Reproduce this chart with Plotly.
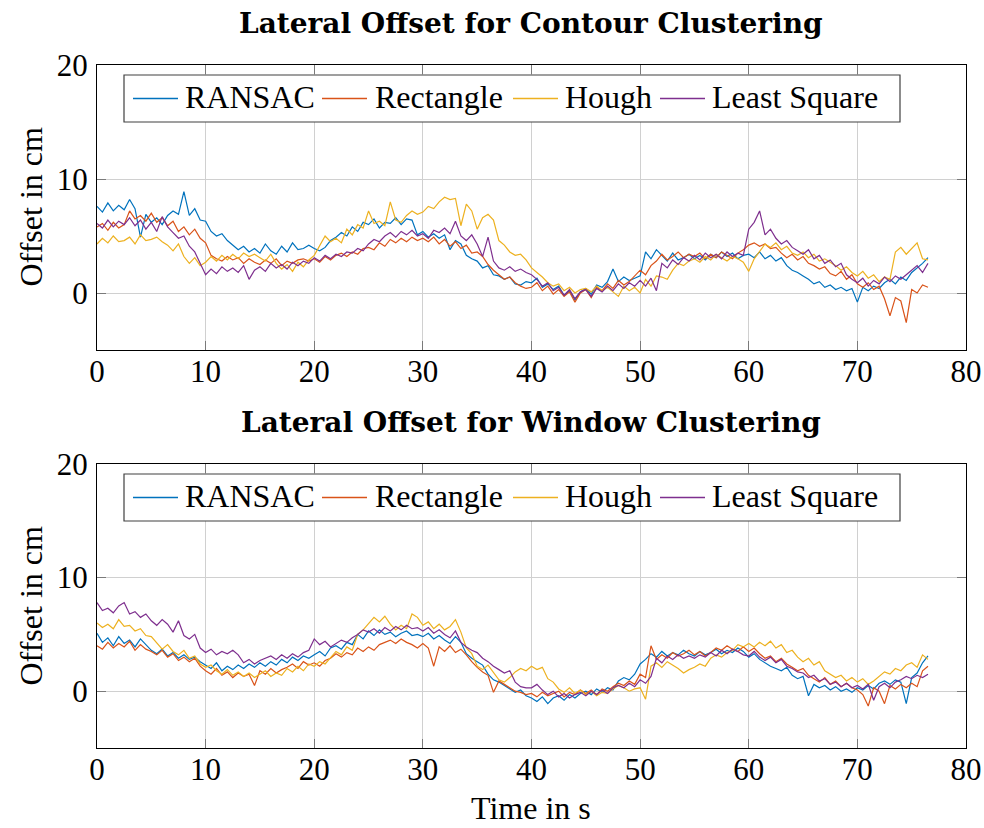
import plotly.graph_objects as go

# Sample times in seconds (0.5 s steps)
time_s = [i * 0.5 for i in range(154)]

series_names = ["RANSAC", "Rectangle", "Hough", "Least Square"]
series_colors = ["#0072BD", "#D95319", "#EDB120", "#7E2F8E"]

# Lateral offset in cm, contour clustering
contour_ransac = [
    7.6, 7.1, 7.9, 7.2, 7.7, 7.3, 8.2, 7.4, 4.9, 6.9,
    6.2, 6.6, 6.0, 6.8, 7.2, 6.9, 8.9, 6.8, 7.4, 6.4,
    6.3, 5.4, 5.0, 5.2, 4.6, 4.2, 3.8, 4.1, 3.6, 3.9,
    3.5, 4.3, 3.7, 3.4, 4.1, 3.6, 4.4, 3.8, 3.9, 4.2,
    3.9, 3.7, 4.0, 4.6, 4.9, 5.3, 5.0, 5.8, 5.4, 6.2,
    6.0, 6.5, 5.7, 6.2, 6.1, 6.6, 6.0, 6.5, 6.4, 5.1,
    5.4, 4.9, 5.2, 4.8, 5.1, 3.8, 4.6, 4.3, 3.3, 3.0,
    2.8, 2.2, 2.4, 1.6, 1.5, 1.2, 1.4, 0.8, 0.7, 1.0,
    0.9, 1.3, 0.5, 0.8, 0.3, 0.6, -0.2, 0.2, -0.6, 0.1,
    0.4, -0.1, 0.7, 0.5, 1.0, 2.1, 1.0, 1.4, 1.1, 1.3,
    1.5, 3.6, 3.0, 3.8, 3.3, 2.8, 3.5, 2.9, 3.1, 3.4,
    3.0, 3.3, 2.9, 3.4, 3.1, 3.6, 3.2, 3.5, 3.0, 3.3,
    3.4, 3.1, 3.6, 3.0, 3.3, 2.8, 3.1, 2.4, 2.0, 1.8,
    1.5, 1.2, 0.8, 1.0, 0.5, 0.7, 0.3, 0.5, 0.2, 0.4,
    -0.8, 0.5, 0.2, 0.6, 0.4, 0.9, 1.2, 0.8, 1.4, 1.1,
    1.8, 2.2, 2.6, 3.1,
]
contour_rectangle = [
    5.8, 6.1, 5.5, 6.2, 5.7, 6.0, 7.2, 6.5, 6.8, 6.3,
    7.0, 6.2, 6.6, 5.9, 6.3, 5.4, 5.8, 5.1, 5.6, 4.8,
    4.4, 3.3, 3.0, 2.8, 3.2, 2.9, 3.1, 2.6, 3.0, 2.7,
    2.5, 2.9, 2.6, 3.0, 2.4, 2.8, 2.6, 2.9, 3.0, 2.8,
    3.0, 2.7, 3.2, 2.9, 3.3, 3.5, 3.2, 3.6, 3.4, 3.9,
    4.0, 3.8, 4.4, 4.1, 4.7, 4.4, 4.8, 4.5, 4.9, 4.6,
    4.8, 4.5, 4.9, 4.3, 4.7, 4.1, 4.5, 3.9, 4.2, 3.5,
    3.6, 3.2, 2.5, 2.0, 1.6, 1.2, 1.4, 0.9, 0.6, 0.4,
    0.5, 0.9, 0.2, 0.6, -0.1, 0.3, -0.3, 0.1, -0.8, 0.0,
    0.3, -0.4, 0.5, 0.2, 0.8, 0.4, 1.1, 0.7, 1.0, 1.5,
    2.0, 1.6, 2.4, 2.8, 3.4, 2.9, 3.2, 3.6, 3.1, 3.4,
    3.2, 3.5, 3.0, 3.4, 3.1, 3.6, 3.3, 3.0, 3.5, 3.8,
    4.2, 4.4, 4.1, 4.3, 3.9, 4.0, 3.5, 3.1, 3.4, 2.9,
    3.2, 2.6, 2.4, 2.1, 2.3, 1.7, 1.5, 1.9, 1.2, 1.6,
    0.8, 0.5, 0.9, 0.3, 0.6, -0.5, -2.0, -0.4, -0.7, -2.6,
    0.3, 0.0, 0.7, 0.5,
]
contour_hough = [
    4.3, 4.8, 4.4, 5.0, 4.5, 4.6, 4.9, 4.3, 5.1, 4.6,
    4.7, 4.9, 4.5, 4.2, 3.7, 4.3, 3.2, 2.6, 3.1, 2.4,
    2.7, 3.2, 2.8, 3.3, 2.9, 3.4, 3.0, 3.5, 3.2, 3.4,
    3.1, 2.8, 3.4, 2.6, 2.1, 2.5, 1.9, 2.7, 2.3, 2.9,
    3.3, 4.2, 5.0, 4.5, 4.8, 4.4, 5.6, 5.1, 6.0, 5.7,
    7.2, 6.1, 6.3, 5.9, 8.0, 6.4, 6.2, 6.8, 7.2, 6.9,
    7.1, 7.6, 7.4, 8.0, 8.4, 8.2, 8.3, 5.9, 7.8, 7.2,
    5.6, 6.6, 6.9, 6.4, 4.6, 4.2, 3.6, 3.3, 3.4, 2.9,
    2.2, 1.8, 1.4, 0.9, 0.6, 0.8, 0.2, 0.5, 0.0, 0.3,
    0.4, 0.1, 0.6, 0.2, 0.5, 0.1, -0.3, 0.6, 0.2, 0.5,
    0.0, 1.2, 0.6, 1.5, 1.4, 1.2, 2.0, 2.6, 2.4, 2.8,
    3.0, 2.7, 3.2, 2.9, 3.4, 3.1, 2.8, 3.2, 3.0, 2.7,
    1.9, 3.0, 3.6, 4.3, 4.0, 4.4, 3.8, 4.1, 3.5, 3.3,
    3.6, 3.1, 3.4, 2.8, 3.0, 2.7, 2.4, 2.0, 2.3, 1.8,
    1.5, 1.9, 1.3, 1.6, 1.0, 1.4, 1.2, 3.6, 4.0, 3.4,
    3.9, 4.4, 3.0, 2.9,
]
contour_least_square = [
    6.1, 5.7, 6.4, 5.8, 6.3, 6.0, 6.6, 5.9, 6.4, 5.6,
    6.2, 5.4, 6.7, 5.8, 5.3, 4.8, 5.0, 4.1, 3.6, 2.6,
    1.6, 2.1, 1.7, 2.3, 1.9, 2.2, 1.8, 2.4, 1.2, 2.0,
    2.3, 1.9, 2.6, 2.2, 2.5, 2.1, 2.7, 2.4, 2.8, 2.6,
    3.1, 2.8, 3.3, 3.0, 3.4, 3.2, 3.6, 3.5, 3.9, 3.7,
    4.3, 4.7, 4.5, 5.0, 5.3, 4.9, 5.4, 5.1, 5.5, 5.0,
    5.2, 4.8, 5.5, 5.3, 5.7, 5.2, 6.3, 5.0, 4.6, 5.1,
    4.3, 3.2, 4.9, 2.8, 2.2, 2.0, 2.3, 1.9, 2.1, 1.8,
    1.6, 1.2, 0.6, 0.9, 0.2, 0.5, -0.2, 0.3, -0.5, 0.1,
    0.3, -0.3, 0.4, 0.1, 0.6, 0.2, 0.8, 0.4, 0.9, 0.6,
    1.1, 0.6, 1.3, 0.2, 2.6, 2.2, 2.9, 2.5, 3.1, 2.8,
    3.3, 2.9, 3.5, 3.1, 3.4, 3.0, 3.6, 3.2, 3.5, 3.3,
    5.6, 6.2, 7.2, 5.1, 5.6, 4.8, 4.3, 4.6, 4.0, 3.7,
    3.4, 3.8, 3.0, 3.3, 2.6, 2.9, 2.3, 2.6, 1.6, 1.2,
    0.9, 1.3, 0.6, 1.1, 0.8, 1.4, 1.0, 1.5, 1.2, 1.6,
    2.0, 2.4, 1.8, 2.6,
]

# Lateral offset in cm, window clustering
window_ransac = [
    5.1, 4.3, 4.7, 4.0, 4.8, 4.2, 4.5, 3.9, 4.6, 4.1,
    3.6, 3.3, 3.7, 3.1, 3.4, 2.9, 3.2, 2.8, 3.0, 2.6,
    2.3, 2.0, 2.5, 1.8, 2.2, 1.9, 2.3, 2.0, 2.4, 2.1,
    2.5, 2.2, 2.6, 2.3, 2.8, 2.5, 3.0, 2.7, 3.1, 2.9,
    3.2, 3.5, 3.1, 3.8, 4.0, 3.7, 4.3, 4.1, 5.0, 4.6,
    5.3, 4.9, 5.4, 5.0, 5.2, 4.8, 5.1, 5.3, 4.9, 5.0,
    4.8, 5.1, 4.6, 4.9, 4.5, 4.2, 4.8, 4.3, 3.3, 2.9,
    2.6, 2.3, 1.5, 1.0, 0.8, 0.5, 0.2, -0.1, 0.1, -0.4,
    -0.6, -0.9, -0.5, -1.1, -0.6, -0.4, -0.8, -0.3, -0.6, -0.2,
    0.0, -0.3, 0.2, -0.1, 0.3, 0.1, 0.9, 1.2, 1.0, 1.5,
    2.4, 2.8, 3.3, 3.0, 3.5, 3.1, 3.4, 3.2, 3.6, 3.3,
    3.1, 3.5, 3.2, 3.4, 3.7, 3.3, 3.6, 3.4, 3.8, 3.5,
    3.0, 3.3, 2.8, 2.5, 2.2, 2.0, 1.8, 2.1, 1.4, 1.1,
    1.3, -0.4, 0.6, 0.3, 0.5, 0.1, 0.4, 0.0, 0.2, -0.1,
    0.3, 0.1, 0.5, 0.2, 0.7, 0.9, 0.6, 1.0, 0.8, -1.1,
    1.2, 1.6, 2.5, 3.1,
]
window_rectangle = [
    4.0, 3.7, 4.3, 3.8, 4.2, 3.9, 4.4, 3.6, 4.1, 3.7,
    3.5, 3.2, 3.6, 3.0, 3.3, 2.7, 3.0, 2.6, 2.9, 2.2,
    1.8, 1.5, 2.0, 1.4, 1.7, 1.2, 1.6, 1.3, 1.5, 0.5,
    1.8, 1.5, 2.0, 1.6, 1.9, 2.1, 2.4, 2.0, 2.6, 2.3,
    2.5, 2.2, 2.7, 2.9, 3.3, 3.0, 3.4, 3.2, 3.8, 3.5,
    3.9, 3.6, 4.1, 4.3, 4.5, 4.2, 4.6, 4.3, 4.1, 3.8,
    4.2, 3.8, 2.2, 3.9, 3.5, 4.0, 3.4, 3.7, 3.2, 2.6,
    2.1, 1.7, 1.4, -0.1, 0.9, 0.6, 0.3, 0.0, -0.1, -0.3,
    -0.2, -0.5, -0.1, -0.4, -0.2, 0.0, -0.5, -0.1, -0.3, 0.1,
    -0.2, 0.1, -0.3, 0.2, 0.0, 0.4, 0.7, 0.5, 0.9, 0.6,
    1.5, 1.2, 4.0, 2.8, 3.2, 2.9, 3.4, 3.1, 3.3, 3.6,
    3.2, 3.5, 3.1, 3.4, 3.8, 3.6, 4.0, 3.7, 3.5, 3.9,
    3.5, 3.8, 3.3, 2.9, 3.1, 2.6, 2.9, 2.4, 2.1, 1.8,
    2.0, 1.4, 1.1, 0.8, 1.2, 0.6, 0.9, 0.4, 0.7, 0.3,
    0.1, -0.3, -1.3, 0.3, 0.0, -1.1, 0.5, 0.2, 0.6, 0.3,
    0.7, 0.4, 1.8, 2.2,
]
window_hough = [
    6.0, 5.6, 5.9, 5.5, 6.3, 5.7, 5.8, 5.3, 5.5, 4.9,
    4.8, 4.2, 3.7, 4.1, 3.5, 3.2, 3.6, 2.9, 3.1, 2.4,
    2.1, 2.3, 1.8, 1.5, 1.9, 1.4, 1.7, 1.3, 1.6, 1.2,
    1.5, 1.8, 1.3, 1.6, 1.4, 2.0, 1.7, 2.2, 1.8, 2.4,
    2.2, 2.6, 2.4, 3.0, 3.5, 3.2, 3.9, 3.6, 5.0, 5.4,
    6.0, 6.5, 6.1, 6.6, 5.9, 5.4, 5.8, 5.5, 6.8, 6.5,
    5.8, 6.1, 5.5, 5.9, 5.4, 5.7, 6.3, 5.2, 3.8, 3.3,
    2.2, 1.9, 2.3, 1.6, 1.0, 0.8, 1.2, 1.7, 2.0, 1.8,
    2.2, 1.9, 2.1, 1.1, 0.8, 0.2, -0.1, 0.3, -0.2, 0.1,
    -0.3, 0.0, -0.4, -0.1, -0.2, 0.2, 0.5, 0.3, 0.0, 0.2,
    0.3, -0.7, 2.2, 2.5, 2.1, 2.6, 2.3, 2.0, 1.6, 1.9,
    2.1, 2.4, 2.2, 2.9, 3.2, 3.0, 3.4, 3.6, 4.1, 3.9,
    4.2, 3.9, 4.3, 4.0, 4.4, 3.8, 4.1, 3.4, 3.6, 3.0,
    2.6, 2.9, 2.3, 2.6, 1.8, 1.5, 1.2, 1.4, 0.9, 1.2,
    0.8, 1.1, 0.6, 0.9, 1.3, 1.7, 1.5, 2.0, 1.8, 2.3,
    2.5, 2.1, 3.2, 2.8,
]
window_least_square = [
    7.8, 7.1, 7.3, 6.9, 7.5, 7.8, 6.8, 7.0, 6.5, 6.8,
    6.2, 5.8, 6.3, 5.9, 5.2, 6.2, 4.9, 4.6, 5.0, 3.8,
    3.4, 3.7, 3.2, 3.5, 3.3, 3.6, 3.2, 2.5, 2.8, 2.4,
    2.7, 2.9, 3.1, 2.8, 3.2, 2.9, 3.3, 3.0, 3.4, 3.6,
    4.6, 4.1, 4.4, 3.9, 4.2, 4.5, 4.3, 4.7, 5.0, 5.4,
    5.2, 5.5, 5.1, 5.6, 5.3, 5.7, 5.4, 5.8, 5.5, 5.6,
    5.3, 5.6, 5.1, 5.4, 5.0, 4.7, 5.3, 4.3, 3.9, 3.6,
    3.4, 2.9, 2.6, 2.2, 1.9, 1.6, 1.8, 0.8, 0.4, 0.3,
    0.3, 0.6, 0.1, -0.3, 0.0, -0.5, -0.2, -0.6, -0.3, -0.1,
    -0.4, 0.0, -0.3, 0.1, -0.2, 0.3, 0.5, 0.3, 0.7, 0.4,
    1.0, 0.7, 1.3, 2.9, 2.5, 3.1, 2.8, 3.2, 2.9, 3.1,
    2.9, 3.2, 3.0, 3.4, 3.1, 3.6, 3.3, 3.7, 3.5, 3.2,
    3.1, 3.5, 3.0, 2.7, 3.0, 2.5, 2.8, 2.2, 2.0, 1.7,
    1.6, 1.2, 1.4, 0.9, 1.1, 0.6, 0.8, 0.4, 0.7, 0.3,
    0.5, 0.2, 0.6, -0.8, 0.4, 0.7, 0.3, 0.8, 1.0, 1.3,
    1.1, 1.4, 1.2, 1.5,
]

x_ticks = [0, 10, 20, 30, 40, 50, 60, 70, 80]
y_ticks = [0, 10, 20]

W, H = 984, 828
FONT = "Liberation Serif"
TITLE_FONT = "DejaVu Serif"
FS = 31


def px(x):
    return x / W


def py(y):
    return 1 - y / H


fig = go.Figure()

# (x axis, y axis, top pixel of the panel, title, series values)
panels = [
    ("x", "y", 65, "Lateral Offset for Contour Clustering",
     [contour_ransac, contour_rectangle, contour_hough, contour_least_square]),
    ("x2", "y2", 464, "Lateral Offset for Window Clustering",
     [window_ransac, window_rectangle, window_hough, window_least_square]),
]
for xa, ya, _, _, values in panels:
    for name, color, vals in zip(series_names, series_colors, values):
        fig.add_trace(go.Scatter(
            x=time_s, y=vals, mode="lines", name=name,
            line=dict(color=color, width=1.2),
            xaxis=xa, yaxis=ya, showlegend=False,
        ))

axis_common = dict(
    showline=True, linecolor="black", linewidth=1.2, mirror="ticks",
    ticks="inside", ticklen=9, tickcolor="#7a7a7a", tickwidth=1,
    showgrid=True, gridcolor="#d0d0d0", gridwidth=1, zeroline=False,
    automargin=False,
    tickfont=dict(family=FONT, size=FS, color="black"),
)
xaxis_style = dict(range=[0, 80], tickvals=x_ticks, ticklabelstandoff=-6, **axis_common)
yaxis_style = dict(range=[-5, 20], tickvals=y_ticks, ticklabelstandoff=2, **axis_common)

fig.update_layout(
    width=W, height=H,
    margin=dict(l=0, r=0, t=0, b=0, autoexpand=False),
    paper_bgcolor="white", plot_bgcolor="white",
    showlegend=False,
    xaxis=dict(domain=[px(97), px(966)], anchor="y", **xaxis_style),
    yaxis=dict(domain=[py(350), py(65)], anchor="x", **yaxis_style),
    xaxis2=dict(domain=[px(97), px(966)], anchor="y2", **xaxis_style),
    yaxis2=dict(domain=[py(748), py(464)], anchor="x2", **yaxis_style),
)

# Legend boxes: sample line spans and label positions in pixels
legend_lines = [(133, 178), (322, 367), (513, 558), (660, 705)]
legend_text_x = [185, 375, 565, 712]

for _, _, top, title, _ in panels:
    fig.add_annotation(text=f"<b>{title}</b>", x=px(530.5), y=py(top - 42),
                       xref="paper", yref="paper", showarrow=False,
                       xanchor="center", yanchor="middle",
                       font=dict(family=TITLE_FONT, size=28, color="black"))
    fig.add_annotation(text="Offset in cm", x=px(30), y=py(top + 142.5),
                       xref="paper", yref="paper", showarrow=False, textangle=-90,
                       xanchor="center", yanchor="middle",
                       font=dict(family=FONT, size=32, color="black"))
    box_top, box_bot = top + 10, top + 57
    fig.add_shape(type="rect", xref="paper", yref="paper",
                  x0=px(124), x1=px(900), y0=py(box_bot), y1=py(box_top),
                  line=dict(color="#404040", width=1.2), fillcolor="white", layer="above")
    ymid = top + 33.5
    for (lx0, lx1), tx, name, color in zip(legend_lines, legend_text_x, series_names, series_colors):
        fig.add_shape(type="line", xref="paper", yref="paper",
                      x0=px(lx0), x1=px(lx1), y0=py(ymid), y1=py(ymid),
                      line=dict(color=color, width=1.4), layer="above")
        fig.add_annotation(text=name, x=px(tx - 2), y=py(ymid - 1.5),
                           xref="paper", yref="paper", showarrow=False,
                           xanchor="left", yanchor="middle",
                           font=dict(family=FONT, size=32, color="black"))

fig.add_annotation(text="Time in s", x=px(530.5), y=0, xref="paper", yref="paper",
                   showarrow=False, xanchor="center", yanchor="bottom",
                   font=dict(family=FONT, size=32, color="black"))

fig.write_html("out.html")
